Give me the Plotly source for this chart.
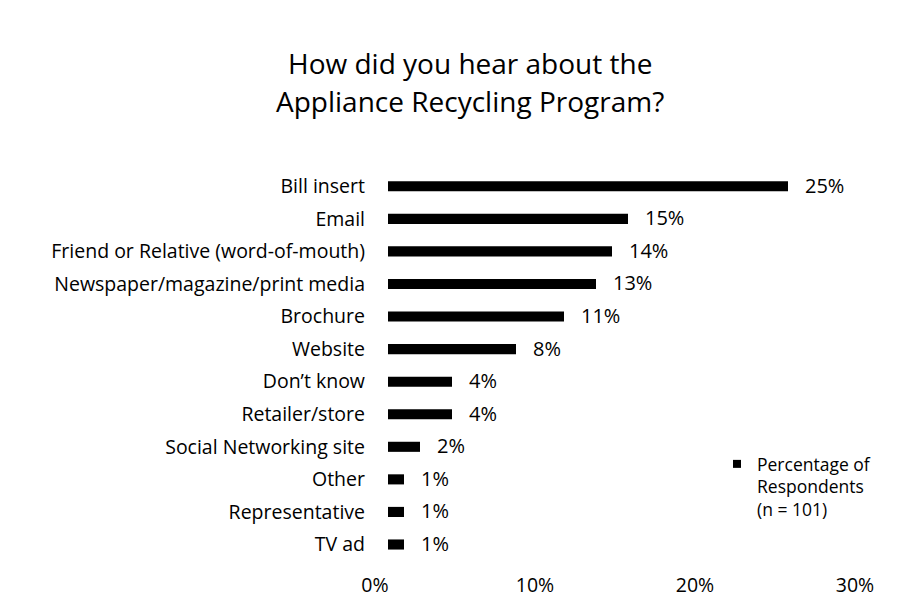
import plotly.graph_objects as go

# Survey answers, top to bottom as listed
sources = [
    "Bill insert",
    "Email",
    "Friend or Relative (word-of-mouth)",
    "Newspaper/magazine/print media",
    "Brochure",
    "Website",
    "Don\u2019t know",
    "Retailer/store",
    "Social Networking site",
    "Other",
    "Representative",
    "TV ad",
]
percent = [25, 15, 14, 13, 11, 8, 4, 4, 2, 1, 1, 1]
x_ticks = [0, 10, 20, 30]
x_tick_labels = ["0%", "10%", "20%", "30%"]
title_lines = ["How did you hear about the", "Appliance Recycling Program?"]
series_name = "Percentage of<br>Respondents<br>(n = 101)"

FONT = "'Open Sans', Lato, sans-serif"
W, H = 920, 612
M_L, M_R, M_T, M_B = 388, 52, 170, 51
PW, PH = W - M_L - M_R, H - M_T - M_B


def px_to_paper(xp, yp):
    """Convert a pixel position on the page to plot-area paper coordinates."""
    return (xp - M_L) / PW, (H - M_B - yp) / PH


fig = go.Figure()
fig.add_trace(
    go.Bar(
        x=percent,
        y=sources,
        orientation="h",
        marker=dict(color="#000000", line=dict(width=0)),
        name=series_name,
        showlegend=False,
    )
)
# legend entry with a small square key
fig.add_trace(
    go.Scatter(
        x=[None], y=[None], mode="markers",
        marker=dict(symbol="square", size=8, color="#000000"),
        name=series_name,
        showlegend=True,
    )
)

# value labels just past the end of each bar
for src, v in zip(sources, percent):
    fig.add_annotation(
        x=v, y=src, xref="x", yref="y",
        text=f"{v}%", showarrow=False,
        xanchor="left", yanchor="middle", xshift=15, yshift=1,
        font=dict(family=FONT, size=20, color="#000000"),
    )

# two-line heading
for line, ypix in zip(title_lines, [63, 101]):
    tx, ty = px_to_paper(470, ypix)
    fig.add_annotation(
        x=tx, y=ty, xref="paper", yref="paper",
        text=line, showarrow=False, xanchor="center", yanchor="middle",
        font=dict(family=FONT, size=28, color="#000000"),
    )

lx, ly = px_to_paper(717, 446)
fig.update_layout(
    width=W,
    height=H,
    margin=dict(l=M_L, r=M_R, t=M_T, b=M_B),
    paper_bgcolor="white",
    plot_bgcolor="white",
    bargap=0.69,
    font=dict(family=FONT, size=16, color="#000000"),
    legend=dict(
        x=lx,
        xanchor="left",
        y=ly,
        yanchor="top",
        valign="top",
        font=dict(family=FONT, size=17.5, color="#000000"),
        bgcolor="rgba(0,0,0,0)",
        itemwidth=30,
        tracegroupgap=0,
    ),
)

fig.update_xaxes(
    range=[0, 30],
    tickvals=x_ticks,
    ticktext=x_tick_labels,
    showgrid=False,
    zeroline=False,
    showline=False,
    ticks="",
    ticklabelstandoff=10,
    ticklabelshift=-13,
    tickfont=dict(family=FONT, size=19.5, color="#000000"),
    fixedrange=True,
)
fig.update_yaxes(
    autorange="reversed",
    showgrid=False,
    zeroline=False,
    showline=False,
    ticks="",
    ticklabelstandoff=22,
    tickfont=dict(family=FONT, size=19.5, color="#000000"),
    fixedrange=True,
)

fig.write_html("out.html")
